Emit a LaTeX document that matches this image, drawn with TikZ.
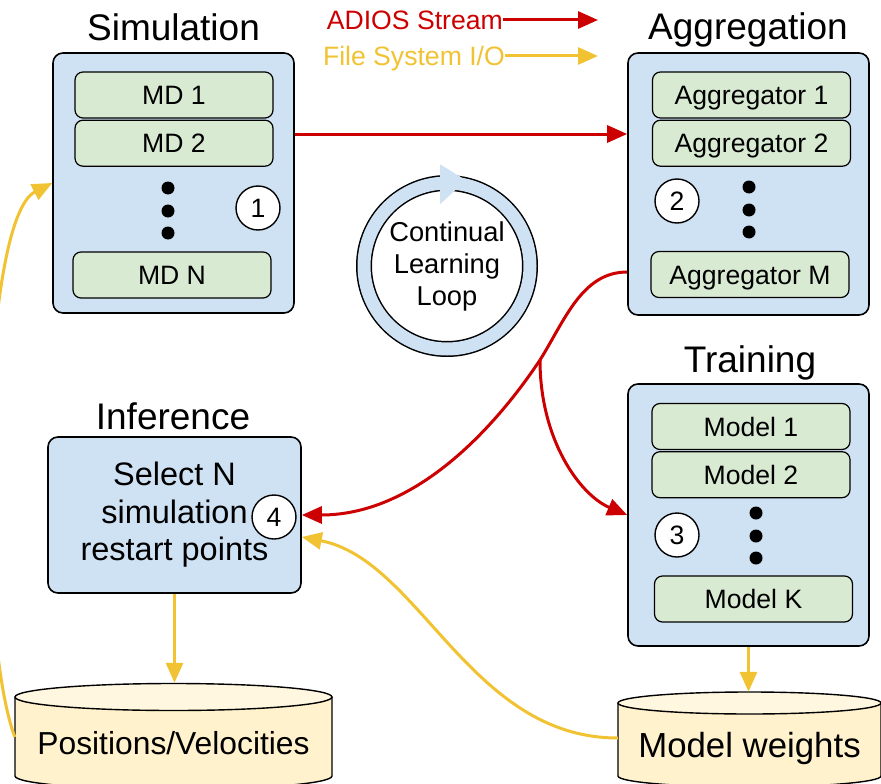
\documentclass[tikz,border=0pt]{standalone}
\usepackage{fontspec}
\setmainfont{Liberation Sans}
\usepackage{xcolor}
\usetikzlibrary{arrows.meta,positioning}

\definecolor{stageblue}{HTML}{CFE2F3}
\definecolor{workgreen}{HTML}{D9EAD3}
\definecolor{storeyellow}{HTML}{FFF2CC}
\definecolor{storetop}{HTML}{FFF7E0}
\definecolor{adiosred}{HTML}{CC0000}
\definecolor{fsyellow}{HTML}{F1C232}

\newcommand{\bodyfont}{\fontsize{26.6}{31}\selectfont}
\newcommand{\titlefont}{\fontsize{37}{43}\selectfont}
\newcommand{\loopfont}{\fontsize{27.3}{32}\selectfont}
\newcommand{\inffont}{\fontsize{32.5}{37.5}\selectfont}

\begin{document}
\begin{tikzpicture}[
    x=1pt,y=-1pt,
    stage/.style={draw, line width=1.6pt, fill=stageblue, rounded corners=10pt, inner sep=0pt},
    worker/.style={draw, line width=1.2pt, fill=workgreen, rounded corners=8pt, minimum width=198pt,
                   minimum height=46pt, inner sep=0pt, text height=19pt, text depth=0pt, font=\bodyfont},
    stagetitle/.style={font=\titlefont, anchor=base, inner sep=0pt},
    stepnum/.style={circle, draw, line width=1.4pt, fill=white, minimum size=44pt, inner sep=0pt, font=\bodyfont},
    legend/.style={font=\bodyfont, inner sep=0pt, text height=19pt, text depth=0pt},
    loopring/.style={circle, draw=black, line width=1.5pt, double=stageblue, double distance=13pt, fill=white,
                     minimum size=166pt, inner sep=0pt, align=center, font=\loopfont},
    storeline/.style={draw=black, line width=1.4pt},
    stream/.style={-{Triangle[length=20pt,width=17pt]}, line width=3pt, adiosred},
    fileio/.style={-{Triangle[length=20pt,width=17pt]}, line width=3pt, fsyellow}
]
\useasboundingbox (0,0) rectangle (881,784);
\clip (0,0) rectangle (881,784);

% legend
\node[legend, text=adiosred, anchor=east] (lgstream) at (503,20) {ADIOS Stream};
\node[legend, text=fsyellow, anchor=east] (lgfile) at (505,56) {File System I/O};
\coordinate (lgstreamend) at (598,20);
\coordinate (lgfileend) at (598,56);
\draw[stream] (lgstream.east) -- (lgstreamend);
\draw[fileio] (lgfile.east) -- (lgfileend);

% simulation
\node[stagetitle] (simtitle) at (173.5,41) {Simulation};
\node[stage, minimum width=241pt, minimum height=260pt] (sim) at (173.5,183) {};
\node[worker] (md1) at (174,95) {MD 1};
\node[worker, below=1pt of md1] (md2) {MD 2};
\node[worker] (mdn) at (172,275) {MD N};
\fill (168,188) circle (6.5) (168,211) circle (6.5) (168,233) circle (6.5);
\node[stepnum] (num1) at (258,208) {1};

% aggregation
\node[stagetitle] (aggtitle) at (748,40) {Aggregation};
\node[stage, minimum width=241pt, minimum height=262pt] (agg) at (748.5,184) {};
\node[worker] (agg1) at (751.5,95) {Aggregator 1};
\node[worker, below=1pt of agg1] (agg2) {Aggregator 2};
\node[worker] (aggm) at (750,274.5) {Aggregator M};
\fill (749,187) circle (6.5) (749,210) circle (6.5) (749,232) circle (6.5);
\node[stepnum] (num2) at (677,201) {2};

% training
\node[stagetitle] (traintitle) at (750,372) {Training};
\node[stage, minimum width=241pt, minimum height=262pt] (train) at (748.5,515) {};
\node[worker] (model1) at (751,426.5) {Model 1};
\node[worker, below=1pt of model1] (model2) {Model 2};
\node[worker] (modelk) at (753.5,599) {Model K};
\fill (756,513) circle (6.5) (756,536) circle (6.5) (756,558) circle (6.5);
\node[stepnum] (num3) at (677,535) {3};

% inference
\node[stagetitle] (inftitle) at (173,429) {Inference};
\node[stage, minimum width=253pt, minimum height=156pt, align=center, font=\inffont] (inf) at (174.5,515)
  {Select N\\simulation\\restart points};
\node[stepnum] (num4) at (274,517) {4};

% loop
\node[loopring] (loop) at (447,266) {Continual\\Learning\\Loop};
\fill[stageblue] ([shift={(-7,-18)}]loop.north) -- ([shift={(19,-2)}]loop.north) -- ([shift={(-7,22)}]loop.north) -- cycle;

% stores
\fill[storeyellow] (15,697) rectangle (332,776);
\fill[storeyellow] (173.5,776) ellipse [x radius=158.5, y radius=13.5];
\draw[storeline] (15,697) -- (15,776) arc[start angle=180, end angle=0, x radius=158.5, y radius=13.5] -- (332,697);
\filldraw[storeline, fill=storetop] (173.5,697) ellipse [x radius=158.5, y radius=13.5];
\node[inner sep=0pt, minimum width=317pt, minimum height=120pt, text height=23pt, text depth=0pt,
      font=\fontsize{31.8}{36}\selectfont] (posvel) at (173.5,743) {Positions/Velocities};

\fill[storeyellow] (618,703) rectangle (881,776);
\fill[storeyellow] (749.5,776) ellipse [x radius=131.5, y radius=11];
\draw[storeline] (618,703) -- (618,776) arc[start angle=180, end angle=0, x radius=131.5, y radius=11] -- (881,703);
\filldraw[storeline, fill=storetop] (749.5,703) ellipse [x radius=131.5, y radius=11];
\node[inner sep=0pt, minimum width=263pt, minimum height=106pt, text height=25pt, text depth=0pt,
      font=\fontsize{34.8}{40}\selectfont] (wts) at (749.5,745) {Model weights};

% adios streams
\coordinate (simout) at ([yshift=49pt]sim.east);
\draw[stream] (simout) -- (simout -| agg.west);
\coordinate (aggout) at ([yshift=-88pt]agg.west);
\coordinate (split) at (540,360);
\draw[stream, -] (aggout) .. controls (582,272) and (565,320) .. (split);
\draw[stream] (split) .. controls (500,420) and (420,515) .. (inf.east);
\draw[stream] (split) .. controls (540,440) and (580,495) .. (train.west);

% file system i/o
\draw[fileio] (inf.south) -- (inf.south |- posvel.north);
\draw[fileio] (train.south) -- (train.south |- wts.north);
\draw[fileio] ([yshift=7pt]wts.west) .. controls (470,738) and (420,560) .. ([yshift=-22pt]inf.east);
\draw[fileio] ([yshift=6pt]posvel.west) .. controls (-25,630) and (-20,220) .. (sim.west);
\end{tikzpicture}
\end{document}
